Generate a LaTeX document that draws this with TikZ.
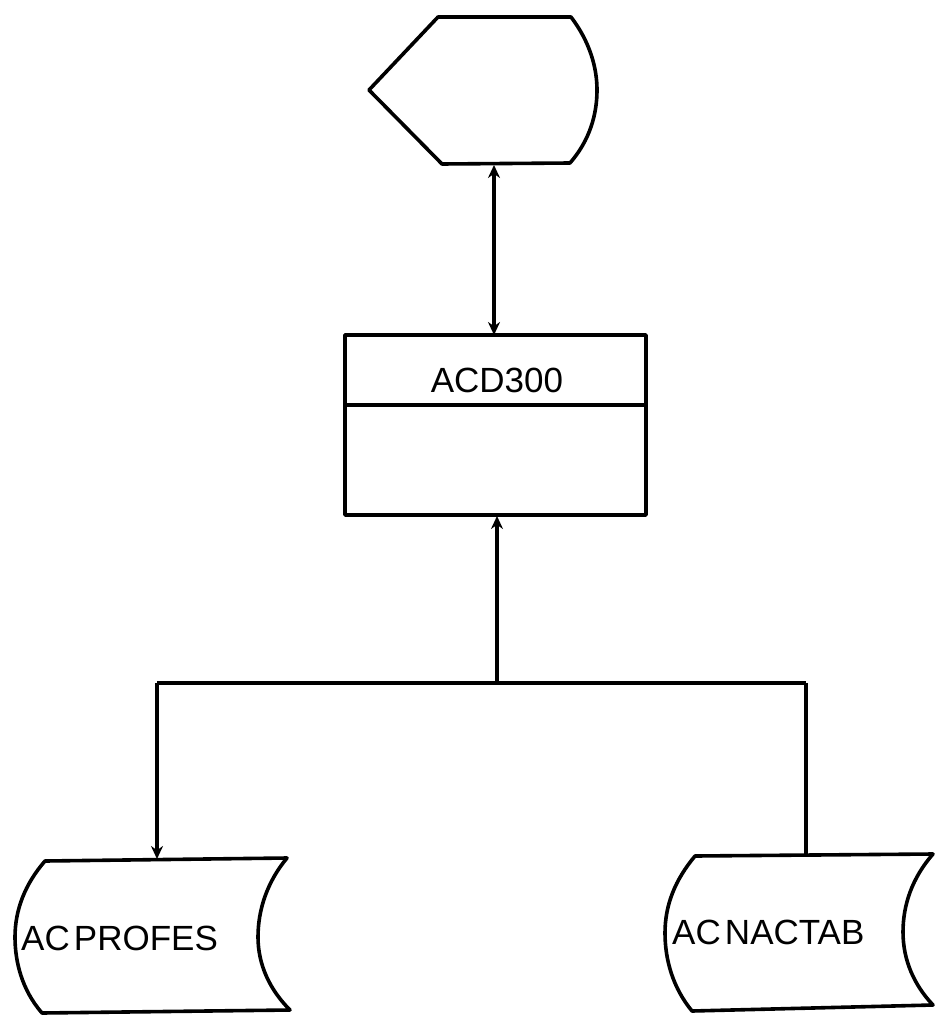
\documentclass[tikz,border=0pt]{standalone}
\usepackage{fontspec}
\setmainfont{Liberation Sans}
\usetikzlibrary{arrows.meta}
\begin{document}
\begin{tikzpicture}[x=1pt,y=-1pt,
  shapeline/.style={line width=3.6pt,line join=round},
  conn/.style={line width=3.2pt},
  tip/.style={-{Stealth[length=13pt,width=12pt]}},
  lbl/.style={font=\fontsize{35}{40}\selectfont,inner sep=0pt}]
\useasboundingbox (0,0) rectangle (940,1019);
% display shape
\draw[shapeline] (438,17) -- (571,17) .. controls (590,42) and (597,68) .. (597,90)
  .. controls (597,114) and (590,140) .. (570,163) -- (442,164) -- (369,90) -- cycle;
\coordinate (disp) at (494,165);
% process box
\node[shapeline,draw,minimum width=301pt,minimum height=180pt,inner sep=0pt] (acd) at (495.5,425) {};
\draw[shapeline] (acd.west |- 0,405) -- (acd.east |- 0,405);
\node[lbl] (acdlbl) at (497,380) {ACD300};
% files
\draw[shapeline] (45,861) -- (287,858) .. controls (267,882) and (258,910) .. (258,937)
  .. controls (258,965) and (270,990) .. (290,1010) -- (42,1013)
  .. controls (22,990) and (15,962) .. (15,937) .. controls (15,910) and (25,884) .. (45,861) -- cycle;
\node[lbl,anchor=west] (prof) at (21,938) {AC\hspace{0.12em}PROFES};
\draw[shapeline] (695,856) -- (933,854) .. controls (912,878) and (903,905) .. (903,932)
  .. controls (903,960) and (914,985) .. (933,1005) -- (692,1011)
  .. controls (673,988) and (665,960) .. (665,933) .. controls (665,905) and (675,880) .. (695,856) -- cycle;
\node[lbl,anchor=west] (nac) at (672,932) {AC\hspace{0.12em}NACTAB};
% connectors
\coordinate (acdtop) at (494,335);
\coordinate (acdbot) at (497,516);
\coordinate (junc) at (497,683);
\coordinate (jl) at (157,683);
\coordinate (jr) at (806,683);
\coordinate (proftop) at (157,859);
\coordinate (nactop) at (806,855);
\draw[conn,{Stealth[length=13pt,width=12pt]}-{Stealth[length=13pt,width=12pt]}] (disp) -- (acdtop);
\draw[conn,tip] (junc) -- (acdbot);
\draw[conn] (jl) -- (jr);
\draw[conn,tip] (jl) -- (proftop);
\draw[conn] (jr) -- (nactop);
\end{tikzpicture}
\end{document}
